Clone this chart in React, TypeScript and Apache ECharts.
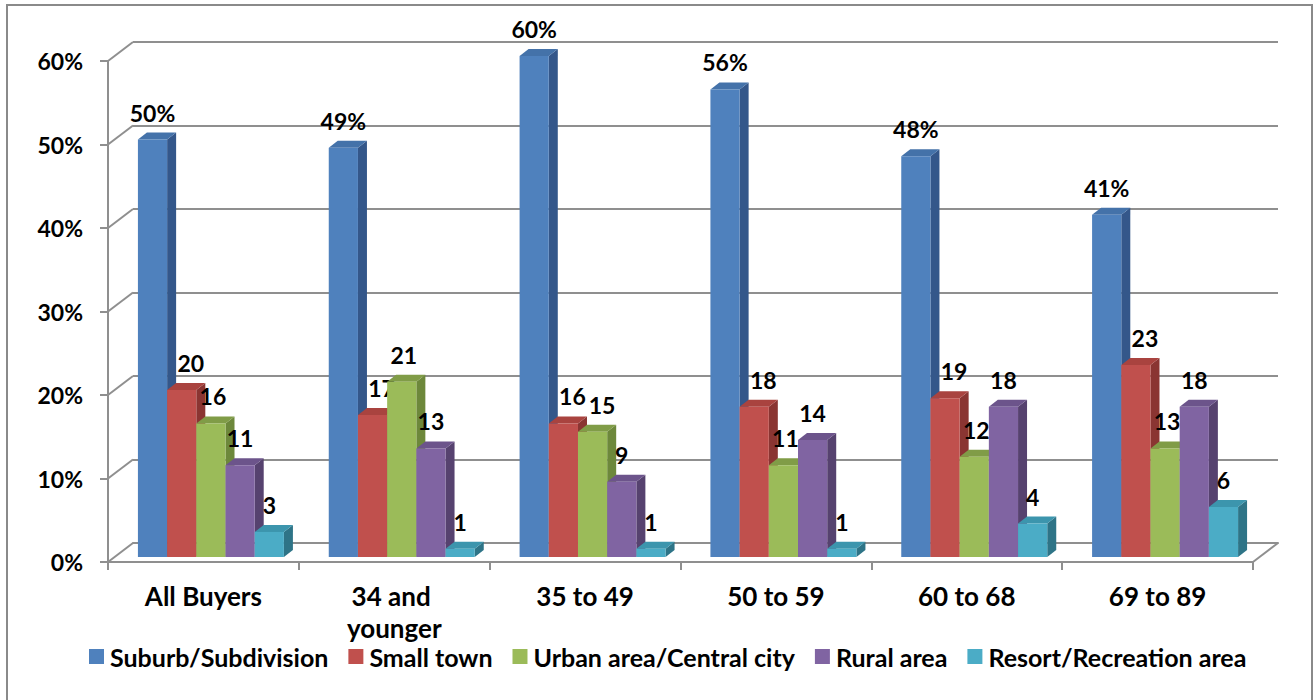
import React, { useEffect, useRef } from "react";
import * as echarts from "echarts";

const CATEGORIES = ["All Buyers", "34 and younger", "35 to 49", "50 to 59", "60 to 68", "69 to 89"];
const SERIES_NAMES = [
  "Suburb/Subdivision",
  "Small town",
  "Urban area/Central city",
  "Rural area",
  "Resort/Recreation area",
];
const SUBURB = [50, 49, 60, 56, 48, 41];
const SMALL_TOWN = [20, 17, 16, 18, 19, 23];
const URBAN = [16, 21, 15, 11, 12, 13];
const RURAL = [11, 13, 9, 14, 18, 18];
const RESORT = [3, 1, 1, 1, 4, 6];
const Y_TICKS = [0, 10, 20, 30, 40, 50, 60];

const SERIES_VALUES = [SUBURB, SMALL_TOWN, URBAN, RURAL, RESORT];

const FRONT = ["#4F81BD", "#C0504D", "#9BBB59", "#8064A2", "#4BACC6"];
const TOP = ["#4472A9", "#A9433F", "#809C47", "#6C548B", "#3C95AD"];
const SIDE = ["#34578A", "#8A3532", "#6D883B", "#56426F", "#2E7487"];
const LABEL_DX = [0, 9, 2, 0, 0];

const FONT = "Lato, 'Open Sans', sans-serif";
const LABEL_FS = 23;
const GRID_COLOR = "#8f8f8f";
const WALL_DX = 25;
const WALL_DY = -19;
const BAR_SHIFT_X = 7.5;
const BAR_SHIFT_Y = -5;
const BAR_DEPTH_X = 9;
const BAR_DEPTH_Y = -7;
const BAR_RATIO = 0.153;
const LABEL_RISE = 27;

const labelText = (s: number, v: number) => (s === 0 ? `${v}%` : `${v}`);
const labelWidth = (t: string) => {
  let w = 0;
  for (const ch of t) w += ch === "%" ? 0.85 : 0.58;
  return w * LABEL_FS;
};

export default function App() {
  const ref = useRef<HTMLDivElement>(null);

  useEffect(() => {
    if (!ref.current) return;
    const chart = echarts.init(ref.current, null, { renderer: "svg" });

    const makeBarRender = (s: number) => (params: any, api: any) => {
      const ci = api.value(0);
      const v = api.value(1);
      const band = api.size([1, 0])[0];
      const bw = band * BAR_RATIO;
      const base = api.coord([ci, 0]);
      const yB = base[1] + BAR_SHIFT_Y;

      // geometry for all bars in this category, to place labels without overlap
      const boxes: { x: number; y: number; w: number }[] = [];
      for (let k = 0; k <= s; k++) {
        const vk = SERIES_VALUES[k][ci];
        const tk = api.coord([ci, vk]);
        const xk = tk[0] + BAR_SHIFT_X - 2.5 * bw + k * bw;
        const yk = tk[1] + BAR_SHIFT_Y - LABEL_RISE;
        const w = labelWidth(labelText(k, vk));
        let cx = xk + bw / 2 + LABEL_DX[k];
        if (k > 0) {
          const prev = boxes[k - 1];
          if (Math.abs(prev.y - yk) < LABEL_FS) {
            const minCx = prev.x + prev.w / 2 + 3 + w / 2;
            if (cx < minCx) cx = minCx;
          }
        }
        boxes.push({ x: cx, y: yk, w });
      }

      const top = api.coord([ci, v]);
      const x0 = top[0] + BAR_SHIFT_X - 2.5 * bw + s * bw;
      const yT = top[1] + BAR_SHIFT_Y;
      return {
        type: "group",
        children: [
          {
            type: "polygon",
            shape: {
              points: [
                [x0 + bw, yT],
                [x0 + bw + BAR_DEPTH_X, yT + BAR_DEPTH_Y],
                [x0 + bw + BAR_DEPTH_X, yB + BAR_DEPTH_Y],
                [x0 + bw, yB],
              ],
            },
            style: { fill: SIDE[s] },
          },
          {
            type: "polygon",
            shape: {
              points: [
                [x0, yT],
                [x0 + BAR_DEPTH_X, yT + BAR_DEPTH_Y],
                [x0 + bw + BAR_DEPTH_X, yT + BAR_DEPTH_Y],
                [x0 + bw, yT],
              ],
            },
            style: { fill: TOP[s] },
          },
          {
            type: "rect",
            shape: { x: x0, y: yT, width: bw, height: yB - yT },
            style: { fill: FRONT[s] },
          },
          {
            type: "text",
            x: boxes[s].x,
            y: boxes[s].y,
            style: {
              text: labelText(s, v),
              fill: "#000",
              font: `bold ${LABEL_FS}px ${FONT}`,
              align: "center",
              verticalAlign: "middle",
            },
          },
        ],
      };
    };

    const wallRender = (params: any, api: any) => {
      const v = api.value(1);
      const p = api.coord([0, v]);
      const band = api.size([1, 0])[0];
      const left = p[0] - band / 2;
      const children: any[] = [
        {
          type: "line",
          shape: { x1: left, y1: p[1], x2: left + WALL_DX, y2: p[1] + WALL_DY },
          style: { stroke: GRID_COLOR, lineWidth: 2 },
        },
      ];
      if (v === 0) {
        const right = left + band * CATEGORIES.length;
        children.push({
          type: "line",
          shape: { x1: right, y1: p[1], x2: right + WALL_DX, y2: p[1] + WALL_DY },
          style: { stroke: GRID_COLOR, lineWidth: 2 },
        });
      }
      return { type: "group", children };
    };

    const option: any = {
      animation: false,
      backgroundColor: "#fff",
      textStyle: { fontFamily: FONT },
      graphic: [
        {
          type: "rect",
          shape: { x: 7, y: 5, width: 1305, height: 710 },
          style: { fill: "none", stroke: "#8a8a8a", lineWidth: 2 },
          z: -10,
        },
      ],
      legend: {
        data: SERIES_NAMES,
        left: 89,
        top: 644,
        padding: 0,
        itemWidth: 15,
        itemHeight: 15,
        itemGap: 20,
        icon: "rect",
        textStyle: { fontFamily: FONT, fontSize: 25, fontWeight: "bold", color: "#000", padding: [0, 0, 0, 1] },
      },
      grid: [
        { left: 108, top: 61, width: 1145, height: 501 },
        { left: 108 + WALL_DX, top: 61 + WALL_DY, width: 1145, height: 501 },
      ],
      xAxis: [
        {
          type: "category",
          gridIndex: 0,
          data: CATEGORIES,
          axisLine: { show: true, lineStyle: { color: GRID_COLOR, width: 2 } },
          axisTick: { show: true, interval: 0, length: 8, lineStyle: { color: GRID_COLOR, width: 2 } },
          axisLabel: {
            interval: 0,
            margin: 18,
            fontFamily: FONT,
            fontSize: 26,
            fontWeight: "bold",
            color: "#000",
            width: 140,
            overflow: "break",
            lineHeight: 32,
          },
        },
        {
          type: "category",
          gridIndex: 1,
          data: CATEGORIES,
          axisLine: { show: true, lineStyle: { color: GRID_COLOR, width: 2 } },
          axisTick: { show: false },
          axisLabel: { show: false },
        },
      ],
      yAxis: [
        {
          type: "value",
          gridIndex: 0,
          min: 0,
          max: 60,
          interval: 10,
          axisLine: { show: true, lineStyle: { color: GRID_COLOR, width: 2 } },
          axisTick: { show: true, length: 8, lineStyle: { color: GRID_COLOR, width: 2 } },
          splitLine: { show: false },
          axisLabel: {
            formatter: "{value}%",
            margin: 25,
            fontFamily: FONT,
            fontSize: 23,
            fontWeight: "bold",
            color: "#000",
          },
        },
        {
          type: "value",
          gridIndex: 1,
          min: 0,
          max: 60,
          interval: 10,
          axisLine: { show: false },
          axisTick: { show: false },
          axisLabel: { show: false },
          splitLine: { show: true, lineStyle: { color: GRID_COLOR, width: 2 } },
        },
      ],
      series: [
        {
          type: "custom",
          name: "wall",
          xAxisIndex: 0,
          yAxisIndex: 0,
          data: Y_TICKS.map((t) => [0, t]),
          renderItem: wallRender,
          silent: true,
          z: 1,
        },
        ...SERIES_VALUES.map((vals, s) => ({
          type: "custom",
          name: SERIES_NAMES[s],
          xAxisIndex: 0,
          yAxisIndex: 0,
          itemStyle: { color: FRONT[s] },
          data: vals.map((v, i) => [i, v]),
          renderItem: makeBarRender(s),
          z: 3 + s,
        })),
      ],
    };

    chart.setOption(option);
    return () => chart.dispose();
  }, []);

  return (
    <div
      ref={ref}
      style={{ position: "fixed", left: 0, top: 0, width: 1313, height: 700, background: "#fff" }}
    />
  );
}
